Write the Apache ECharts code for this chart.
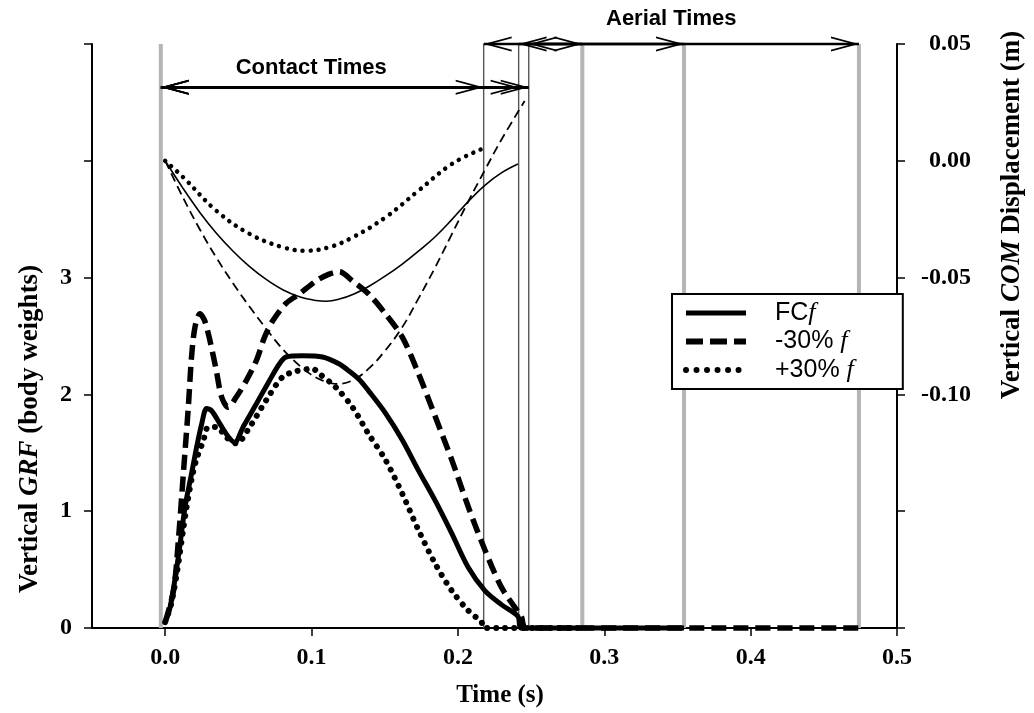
<!DOCTYPE html>
<html><head><meta charset="utf-8">
<script src="https://cdn.jsdelivr.net/npm/echarts@6/dist/echarts.min.js"></script>
<style>html,body{margin:0;padding:0;background:#fff}#c{width:1034px;height:713px}</style>
</head><body><div id="c"></div>
<script>
// ---------- tick values ----------
const timeTicks = [0, 0.1, 0.2, 0.3, 0.4, 0.5];
const grfTicks = [0, 1, 2, 3, 4, 5];
const grfTickLabels = [0, 1, 2, 3];
const comTicks = [-0.20, -0.15, -0.10, -0.05, 0.00, 0.05];
const comTickLabels = [-0.10, -0.05, 0.00, 0.05];

// ---------- GRF (body weights) ----------
const tGrfFC = [0, 0.0034, 0.009, 0.0136, 0.018, 0.0215, 0.025, 0.0283, 0.0317, 0.0373, 0.043, 0.0475, 0.0532, 0.0623, 0.0713, 0.078, 0.0826, 0.0939, 0.1075, 0.119, 0.1256, 0.1324, 0.139, 0.1505, 0.162, 0.173, 0.1845, 0.1958, 0.207, 0.2184, 0.2297, 0.241, 0.2435, 0.3545];
const grfFC  = [0.05, 0.18, 0.61, 1.04, 1.32, 1.55, 1.75, 1.88, 1.86, 1.75, 1.64, 1.59, 1.72, 1.92, 2.12, 2.26, 2.32, 2.33, 2.32, 2.26, 2.20, 2.13, 2.03, 1.84, 1.61, 1.35, 1.09, 0.81, 0.52, 0.32, 0.20, 0.10, 0, 0];

const tGrfMinus = [0, 0.0057, 0.009, 0.0124, 0.0158, 0.018, 0.0204, 0.0238, 0.027, 0.0306, 0.035, 0.0385, 0.043, 0.0487, 0.0555, 0.0623, 0.0679, 0.0735, 0.0826, 0.0917, 0.103, 0.112, 0.119, 0.128, 0.139, 0.1505, 0.162, 0.173, 0.1845, 0.1958, 0.207, 0.2184, 0.2297, 0.241, 0.2433, 0.2465, 0.4740];
const grfMinus  = [0.05, 0.32, 0.75, 1.32, 1.89, 2.32, 2.58, 2.69, 2.63, 2.46, 2.20, 1.98, 1.89, 1.98, 2.12, 2.29, 2.49, 2.63, 2.78, 2.86, 2.97, 3.03, 3.05, 2.97, 2.86, 2.69, 2.49, 2.18, 1.81, 1.44, 1.04, 0.67, 0.35, 0.14, 0.10, 0, 0];

const tGrfPlus = [0, 0.004, 0.008, 0.0124, 0.0147, 0.0185, 0.0215, 0.026, 0.0294, 0.035, 0.042, 0.0487, 0.0577, 0.069, 0.0803, 0.09, 0.1007, 0.105, 0.1166, 0.128, 0.139, 0.1505, 0.162, 0.173, 0.1845, 0.1958, 0.207, 0.2161, 0.2176, 0.2850];
const grfPlus  = [0.05, 0.20, 0.47, 0.85, 1.04, 1.30, 1.45, 1.60, 1.72, 1.72, 1.63, 1.58, 1.72, 1.95, 2.15, 2.20, 2.22, 2.18, 2.06, 1.89, 1.66, 1.44, 1.15, 0.84, 0.55, 0.32, 0.15, 0.05, 0, 0];

// ---------- COM displacement (m) ----------
const tComFC = [0, 0.0124, 0.0238, 0.035, 0.0464, 0.0577, 0.069, 0.0803, 0.0917, 0.103, 0.110, 0.119, 0.129, 0.139, 0.150, 0.162, 0.173, 0.1845, 0.1958, 0.207, 0.2184, 0.2297, 0.241];
const comFC  = [0, -0.0120, -0.0222, -0.0310, -0.0387, -0.0453, -0.0508, -0.0552, -0.0582, -0.0598, -0.0601, -0.0592, -0.0570, -0.0538, -0.0495, -0.0442, -0.0387, -0.0325, -0.0252, -0.0175, -0.0105, -0.0052, -0.0014];

const tComMinus = [0, 0.0124, 0.0238, 0.035, 0.0464, 0.0577, 0.0679, 0.078, 0.0871, 0.0985, 0.108, 0.1166, 0.128, 0.139, 0.150, 0.162, 0.173, 0.1845, 0.1958, 0.207, 0.2184, 0.2297, 0.2456];
const comMinus  = [0, -0.0160, -0.0295, -0.0415, -0.0525, -0.0625, -0.0710, -0.0790, -0.0850, -0.0910, -0.0942, -0.0955, -0.0940, -0.0890, -0.0815, -0.0712, -0.0590, -0.0456, -0.0315, -0.0175, -0.0040, 0.0090, 0.0256];

const tComPlus = [0, 0.0124, 0.035, 0.0577, 0.0803, 0.096, 0.112, 0.128, 0.1505, 0.173, 0.1958, 0.2161];
const comPlus  = [0, -0.0071, -0.0214, -0.0313, -0.0370, -0.0385, -0.0370, -0.0328, -0.0242, -0.0128, -0.0014, 0.0050];

// ---------- event times (s) ----------
const contactStart = -0.003;
const contactEnds = [0.2176, 0.2415, 0.2484];   // +30% f, FC f, -30% f
const aerialEnds  = [0.2850, 0.3545, 0.4740];

const SERIF = "'Liberation Serif','DejaVu Serif',serif";
const SANS = "'Liberation Sans','DejaVu Sans',sans-serif";
const zip = (t, v) => t.map((x, i) => [x, v[i]]);
// open chevron, tip at the centre of its bounding box
const chevron = 'path://M10,0 L20,20 L17.6,20 L10,4.8 L2.4,20 L0,20 Z M10,-20 L10.001,-20 L10,-19.999 Z';

const series = [];
[contactStart].concat(aerialEnds).forEach((t, i) => series.push({
  name: 'gray' + i, type: 'line', data: [[t, 0], [t, 5.0]], symbol: 'none', clip: false, silent: true,
  lineStyle: { color: '#b5b5b5', width: 4 }, z: 1
}));
contactEnds.forEach((t, i) => series.push({
  name: 'thin' + i, type: 'line', data: [[t, 0], [t, 5.0]], symbol: 'none', clip: false, silent: true,
  lineStyle: { color: '#555', width: 1.4 }, z: 1
}));
const contactRowY = 4.63, aerialRowY = 5.0;
series.push({
  name: 'arrows', type: 'line', data: [], symbol: 'none', silent: true, z: 3,
  markLine: {
    silent: true, animation: false,
    symbol: [chevron, chevron], symbolSize: [15, 56],
    label: { show: false },
    lineStyle: { color: '#000', width: 3, type: 'solid' },
    data: contactEnds.map(e => [{ coord: [contactStart, contactRowY] }, { coord: [e, contactRowY] }])
      .concat(contactEnds.map((s, i) => [{ coord: [s, aerialRowY], lineStyle: { width: 2.4 } }, { coord: [aerialEnds[i], aerialRowY] }]))
  },
  markPoint: {
    silent: true, animation: false, symbol: 'circle', symbolSize: 1, itemStyle: { color: 'rgba(0,0,0,0)' },
    label: { show: true, position: 'inside', formatter: '{b}', color: '#000', fontFamily: SANS, fontWeight: 'bold', fontSize: 22 },
    data: [{ name: 'Contact Times', coord: [0.0998, 4.795] }]
  }
});
series.push({ name: 'comFC', type: 'line', yAxisIndex: 1, data: zip(tComFC, comFC), symbol: 'none', smooth: 0.4, z: 4,
  lineStyle: { color: '#000', width: 1.6 } });
series.push({ name: 'comMinus', type: 'line', yAxisIndex: 1, data: zip(tComMinus, comMinus), symbol: 'none', smooth: 0.4, z: 4,
  lineStyle: { color: '#000', width: 1.8, type: [9, 5] } });
series.push({ name: 'comPlus', type: 'line', yAxisIndex: 1, data: zip(tComPlus, comPlus), symbol: 'none', smooth: 0.4, z: 4,
  lineStyle: { color: '#000', width: 4.5, type: [0.01, 8], cap: 'round' } });
series.push({ name: 'FCf', type: 'line', data: zip(tGrfFC, grfFC), symbol: 'none', smooth: 0.3, clip: false, z: 5,
  itemStyle: { color: '#000' }, lineStyle: { color: '#000', width: 5 } });
series.push({ name: '-30% f', type: 'line', data: zip(tGrfMinus, grfMinus), symbol: 'none', smooth: 0.3, clip: false, z: 5,
  itemStyle: { color: '#000' }, lineStyle: { color: '#000', width: 5.5, type: [15, 7] } });
series.push({ name: '+30% f', type: 'line', data: zip(tGrfPlus, grfPlus), symbol: 'none', smooth: 0.3, clip: false, z: 5,
  itemStyle: { color: '#000' }, lineStyle: { color: '#000', width: 6, type: [0.01, 9], cap: 'round' } });

const legendNames = { 'FCf': 'FC{f|f}', '-30% f': '-30% {f|f}', '+30% f': '+30% {f|f}' };

const option = {
  animation: false,
  backgroundColor: '#fff',
  title: { text: 'Aerial Times', left: 606, top: 8, padding: 0,
    textStyle: { fontFamily: SANS, fontWeight: 'bold', fontSize: 22, color: '#000' } },
  grid: { left: 92, right: 131, top: 44, bottom: 85, containLabel: false },
  legend: {
    data: [
      { name: 'FCf', lineStyle: { width: 5, color: '#000', type: 'solid' } },
      { name: '-30% f', lineStyle: { width: 6, color: '#000', type: [17, 7] } },
      { name: '+30% f', lineStyle: { width: 6, color: '#000', type: [0.01, 10.5], cap: 'round' } }
    ],
    orient: 'vertical', left: 672, top: 294,
    itemWidth: 60, itemHeight: 14, itemGap: 0.5, padding: [5, 49, 5, 11],
    borderColor: '#000', borderWidth: 2, borderRadius: 0, backgroundColor: '#fff', z: 10,
    itemStyle: { opacity: 0 },
    formatter: n => legendNames[n],
    textStyle: { fontFamily: SANS, fontSize: 25, lineHeight: 28, color: '#000', padding: [0, 0, 0, 24],
      rich: { f: { fontFamily: SERIF, fontStyle: 'italic', fontSize: 26, lineHeight: 28, color: '#000' } } }
  },
  xAxis: {
    type: 'value', min: -0.05, max: 0.5, interval: 0.05,
    name: 'Time (s)', nameLocation: 'middle', nameGap: 55,
    nameTextStyle: { fontFamily: SERIF, fontWeight: 'bold', fontSize: 25, color: '#000', padding: [0, 0, 0, 11] },
    axisLine: { onZero: false, lineStyle: { color: '#000', width: 2 } },
    axisTick: { show: true, length: 8, customValues: timeTicks, lineStyle: { color: '#000', width: 1.5 } },
    axisLabel: { customValues: timeTicks, margin: 18, fontFamily: SERIF, fontWeight: 'bold', fontSize: 24, color: '#000',
      formatter: v => v.toFixed(1) },
    splitLine: { show: false }
  },
  yAxis: [{
    type: 'value', min: 0, max: 5, interval: 1, position: 'left',
    name: 'Vertical {i|GRF} (body weights)', nameLocation: 'middle', nameGap: 48, nameRotate: 90,
    nameTextStyle: { fontFamily: SERIF, fontWeight: 'bold', fontSize: 27, color: '#000', padding: [0, 186, 0, 0],
      rich: { i: { fontFamily: SERIF, fontWeight: 'bold', fontStyle: 'italic', fontSize: 27, color: '#000' } } },
    axisLine: { show: true, onZero: false, lineStyle: { color: '#000', width: 2 } },
    axisTick: { show: true, length: 8, customValues: grfTicks, lineStyle: { color: '#000', width: 1.5 } },
    axisLabel: { customValues: grfTickLabels, margin: 20, fontFamily: SERIF, fontWeight: 'bold', fontSize: 24, color: '#000',
      formatter: v => (v > 3.5 ? '' : String(Math.round(v))) },
    splitLine: { show: false }
  }, {
    type: 'value', min: -0.20, max: 0.05, interval: 0.05, position: 'right',
    name: 'Vertical {i|COM} Displacement (m)', nameLocation: 'middle', nameGap: 102, nameRotate: 90,
    nameTextStyle: { fontFamily: SERIF, fontWeight: 'bold', fontSize: 27, color: '#000', padding: [0, 0, 0, 242],
      rich: { i: { fontFamily: SERIF, fontWeight: 'bold', fontStyle: 'italic', fontSize: 27, color: '#000' } } },
    axisLine: { show: true, onZero: false, lineStyle: { color: '#000', width: 2 } },
    axisTick: { show: true, length: 8, customValues: comTicks, lineStyle: { color: '#000', width: 1.5 } },
    axisLabel: { customValues: comTickLabels, margin: 74, align: 'right', fontFamily: SERIF, fontWeight: 'bold', fontSize: 24, color: '#000',
      formatter: v => (v < -0.11 ? '' : (Math.abs(v) < 1e-9 ? '0.00' : v.toFixed(2))) },
    splitLine: { show: false }
  }],
  series: series
};
const chart = echarts.init(document.getElementById('c'), null, { renderer: 'canvas' });
chart.setOption(option);
</script></body></html>
